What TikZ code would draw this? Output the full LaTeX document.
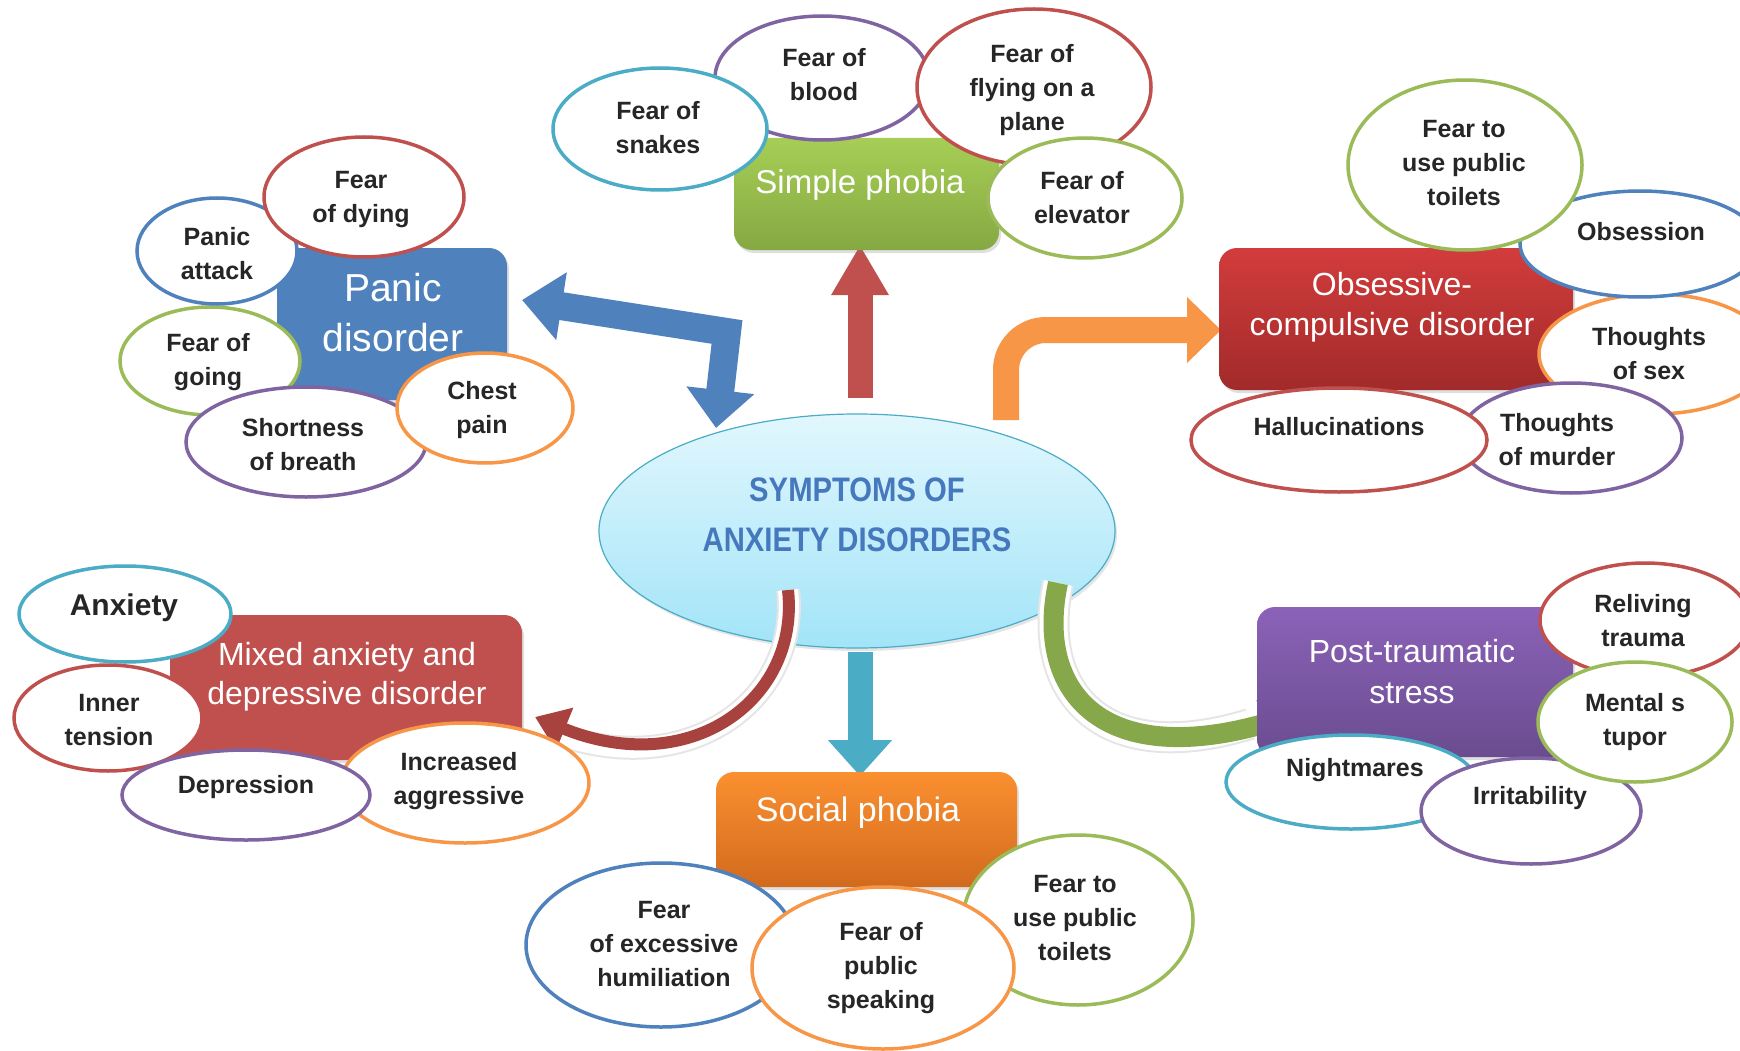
\documentclass[tikz,border=0pt]{standalone}
\usepackage{fontspec}
\setmainfont{Liberation Sans}
\newfontfamily\condfont{Liberation Sans}[FakeStretch=0.86]
\usetikzlibrary{shapes.geometric,arrows.meta,shadows}
\definecolor{cblue}{HTML}{4F81BD}
\definecolor{cred}{HTML}{C0504D}
\definecolor{cgreen}{HTML}{9BBB59}
\definecolor{cpurple}{HTML}{8064A2}
\definecolor{cteal}{HTML}{4BACC6}
\definecolor{corange}{HTML}{F79646}
\definecolor{txtc}{HTML}{262626}
\definecolor{ctitle}{HTML}{4678BE}
\definecolor{cdred}{HTML}{A8423F}
\definecolor{cdgreen}{HTML}{86A84A}
\definecolor{ctop}{HTML}{E2F7FD}
\definecolor{cbot}{HTML}{A2E4F8}
\definecolor{simtop}{HTML}{A6CE55}
\definecolor{simbot}{HTML}{86A843}
\definecolor{ocdtop}{HTML}{D23C3C}
\definecolor{ocdbot}{HTML}{A22A2A}
\definecolor{pttop}{HTML}{8B62B8}
\definecolor{ptbot}{HTML}{6A4C8F}
\definecolor{sotop}{HTML}{FB9030}
\definecolor{sobot}{HTML}{D26A1E}
\tikzset{
  bub/.style={ellipse, draw=#1, line width=3.5pt, fill=white, inner sep=0pt},
  btxt/.style={font=\fontsize{25}{34}\selectfont\bfseries, text=txtc, align=center, inner sep=0pt},
  boxt/.style={font=\fontsize{33}{41}\selectfont, text=white, align=center, inner sep=0pt},
  catbox/.style={rectangle, rounded corners=18pt, inner sep=0pt,
     drop shadow={opacity=0.25, shadow xshift=2pt, shadow yshift=-3pt}},
}
\newcommand{\mybub}[9]{%
  \node[bub=#6, minimum width=#4pt, minimum height=#5pt] (#1) at (#2,#3) {};
  \node[btxt] (#1t) at (#7,#8) {#9};}
\begin{document}
\begin{tikzpicture}[x=1pt,y=-1pt]
\clip (0,0) rectangle (1740,1051);
\fill[white] (0,0) rectangle (1740,1051);

% central ellipse
\node[ellipse, draw=cteal, line width=1.2pt, top color=ctop, bottom color=cbot,
      minimum width=516pt, minimum height=234pt, inner sep=0pt,
      drop shadow={opacity=0.2, shadow xshift=2pt, shadow yshift=-3pt}] (center) at (857,531) {};
\node[font=\condfont\fontsize{34}{50}\selectfont\bfseries, text=ctitle, align=center, inner sep=0pt] (title) at (857,515) {SYMPTOMS OF\\ANXIETY DISORDERS};

% coordinates for connector ends
\coordinate (bA) at (522,300);
\coordinate (bB) at (727,332);
\coordinate (bC) at (716,428);
\coordinate (rA) at (860,398);
\coordinate (rB) at (860,245);
\coordinate (oA) at (1006,420);
\coordinate (oB) at (1006,330);
\coordinate (oC) at (1221,330);
\coordinate (tA) at (860,652);
\coordinate (tB) at (860,776);
\coordinate (lA) at (788,590);
\coordinate (lB) at (535,717);
\coordinate (gA) at (1058,583);
\coordinate (gB) at (1292,716);

% straight arrows
\draw[cblue, line width=28pt, line join=miter,
      {Triangle[width=66pt,length=40pt]}-{Triangle[width=66pt,length=38pt]}] (bA) -- (bB) -- (bC);
\draw[cred, line width=25pt, -{Triangle[width=54pt,length=50pt]}] (rA) -- (rB);
\draw[corange, line width=26pt, rounded corners=40pt, -{Triangle[width=64pt,length=34pt]}] (oA) -- (oB) -- (oC);
\draw[cteal, line width=25pt, -{Triangle[width=62pt,length=36pt]}] (tA) -- (tB);

% curved arrows
\draw[gray!20, line width=24pt] (lA) .. controls (800,700) and (690,780) .. (560,735);
\draw[white, line width=20pt] (lA) .. controls (800,700) and (690,780) .. (560,735);
\draw[cdred, line width=12pt, -{Triangle[width=44pt,length=32pt]}] (lA) .. controls (800,700) and (690,780) .. (lB);
\draw[gray!20, line width=32pt] (gA) .. controls (1035,690) and (1100,770) .. (1250,724);
\draw[white, line width=28pt] (gA) .. controls (1035,690) and (1100,770) .. (1250,724);
\draw[cdgreen, line width=20pt, -{Triangle[width=48pt,length=30pt]}] (gA) .. controls (1035,690) and (1100,770) .. (gB);

% category boxes
\node[catbox, fill=cblue, minimum width=230pt, minimum height=152pt] (panic) at (392,324) {};
\node[boxt, font=\fontsize{39}{50}\selectfont] (panict) at (393,313) {Panic\\disorder};
\node[catbox, top color=simtop, bottom color=simbot, minimum width=265pt, minimum height=112pt] (simple) at (866.5,194) {};
\node[boxt] (simplet) at (860,185) {Simple phobia};
\node[catbox, top color=ocdtop, bottom color=ocdbot, minimum width=354pt, minimum height=142pt] (ocd) at (1396,319) {};
\node[boxt, font=\fontsize{32}{40}\selectfont] (ocdt) at (1392,307) {Obsessive-\\compulsive disorder};
\node[catbox, top color=pttop, bottom color=ptbot, minimum width=316pt, minimum height=150pt] (ptsd) at (1415,682) {};
\node[boxt, font=\fontsize{32}{41}\selectfont] (ptsdt) at (1412,672) {Post-traumatic\\stress};
\node[catbox, fill=cred, minimum width=352pt, minimum height=145pt] (mixed) at (346,687.5) {};
\node[boxt, font=\fontsize{32}{39}\selectfont] (mixedt) at (347,677) {Mixed anxiety and\\depressive disorder};
\node[catbox, top color=sotop, bottom color=sobot, minimum width=301pt, minimum height=115pt] (social) at (866.5,829.5) {};
\node[boxt, font=\fontsize{34}{41}\selectfont] (socialt) at (858,813) {Social phobia};

% Panic disorder bubbles
\mybub{going}{210}{361}{180}{108}{cgreen}{208}{362}{Fear of\\going}
\mybub{attack}{217}{251}{160}{106}{cblue}{217}{254}{Panic\\attack}
\mybub{dying}{364}{197}{200}{120}{cred}{361}{200}{Fear\\of dying}
\mybub{breath}{306}{442}{240}{110}{cpurple}{303}{445}{Shortness\\of breath}
\mybub{chest}{485}{408}{176}{110}{corange}{482}{410}{Chest\\pain}

% Simple phobia bubbles
\mybub{blood}{822}{78}{214}{124}{cpurple}{824}{75}{Fear of\\blood}
\mybub{snakes}{660}{129}{214}{122}{cteal}{658}{128}{Fear of\\snakes}
\mybub{flying}{1034}{87}{234}{156}{cred}{1032}{90}{Fear of\\flying on a\\plane}
\mybub{elevator}{1085}{198}{194}{120}{cgreen}{1082}{198}{Fear of\\elevator}

% OCD bubbles
\mybub{sex}{1655}{354}{232}{120}{corange}{1649}{354}{Thoughts\\of sex}
\mybub{obsession}{1640}{244}{240}{106}{cblue}{1641}{232}{Obsession}
\mybub{toiletsA}{1465}{165}{234}{170}{cgreen}{1464}{163}{Fear to\\use public\\toilets}
\mybub{murder}{1571}{438}{222}{110}{cpurple}{1557}{440}{Thoughts\\of murder}
\mybub{halluc}{1339}{440}{296}{104}{cred}{1339}{427}{Hallucinations}

% PTSD bubbles
\mybub{reliving}{1645}{620}{210}{114}{cred}{1643}{621}{Reliving\\trauma}
\mybub{nightmares}{1351}{782}{250}{94}{cteal}{1355}{770}{Nightmares}
\mybub{irrit}{1531}{811}{220}{106}{cpurple}{1530}{798}{Irritability}
\mybub{mental}{1635}{722}{194}{120}{cgreen}{1635}{722}{Mental s\\tupor}

% Mixed bubbles
\mybub{increased}{465}{783}{248}{120}{corange}{459}{781}{Increased\\aggressive}
\node[bub=cteal, minimum width=212pt, minimum height=96pt] (anxiety) at (125,614) {};
\node[btxt, font=\fontsize{30}{36}\selectfont\bfseries] (anxietyt) at (124,608) {Anxiety};
\mybub{inner}{108}{718}{188}{106}{cred}{109}{720}{Inner\\tension}
\mybub{depression}{246}{795}{248}{90}{cpurple}{246}{787}{Depression}

% Social phobia bubbles
\mybub{humil}{661}{945}{270}{164}{cblue}{664}{944}{Fear\\of excessive\\humiliation}
\mybub{toiletsB}{1078}{920}{230}{170}{cgreen}{1075}{918}{Fear to\\use public\\toilets}
\mybub{speaking}{883}{968}{262}{162}{corange}{881}{968}{Fear of\\public\\speaking}
\end{tikzpicture}
\end{document}
